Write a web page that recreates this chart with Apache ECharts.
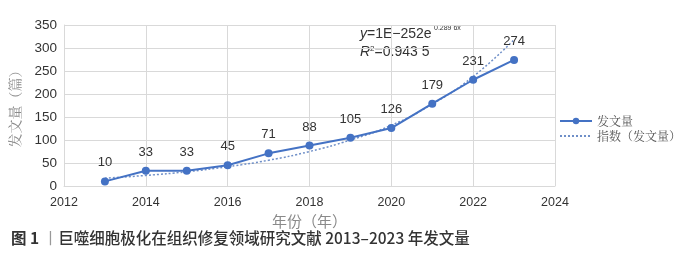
<!DOCTYPE html>
<html>
<head>
<meta charset="utf-8">
<script src="https://cdn.jsdelivr.net/npm/echarts@6/dist/echarts.min.js"></script>
<style>
  html, body { margin: 0; padding: 0; background: #fff; }
  #chart { width: 700px; height: 259px; }
</style>
</head>
<body>
<div id="chart"></div>
<script>
// 年份与发文量
const years = [2013, 2014, 2015, 2016, 2017, 2018, 2019, 2020, 2021, 2022, 2023]
const counts = [10, 33, 33, 45, 71, 88, 105, 126, 179, 231, 274]
// 指数趋势线
const trend = [17, 23, 31, 42, 56, 75, 100, 132, 178, 238, 318]
const yTicks = [0, 50, 100, 150, 200, 250, 300, 350]

const blue = '#4472c4'
const chart = echarts.init(document.getElementById('chart'))

const option = {
  animation: false,
  grid: { left: 62, right: 145, top: 25, bottom: 73 },
  legend: {
    orient: 'vertical',
    left: 554,
    top: 110,
    itemWidth: 32,
    itemHeight: 8,
    itemGap: 3,
    textStyle: { fontFamily: 'Noto Serif CJK SC, Noto Sans CJK SC', fontSize: 12, color: '#555' },
    data: [
      '发文量',
      { name: '指数（发文量）', itemStyle: { opacity: 0 } }
    ]
  },
  xAxis: {
    type: 'value',
    min: 2012,
    max: 2024,
    interval: 2,
    name: '年份（年）',
    nameLocation: 'middle',
    nameGap: 28,
    nameTextStyle: { fontFamily: 'Noto Sans CJK SC', fontSize: 15, color: '#8a8a8a' },
    axisLine: { show: true, lineStyle: { color: '#d9d9d9' } },
    axisTick: { show: false },
    splitLine: { show: true, lineStyle: { color: '#d9d9d9' } },
    axisLabel: {
      fontFamily: 'Arial, Liberation Sans',
      fontSize: 12.5,
      color: '#333',
      margin: 10,
      formatter: v => String(v)
    }
  },
  yAxis: {
    type: 'value',
    min: yTicks[0],
    max: yTicks[yTicks.length - 1],
    interval: 50,
    name: '发文量（篇）',
    nameLocation: 'middle',
    nameRotate: 90,
    nameGap: 42,
    nameTextStyle: { fontFamily: 'Noto Serif CJK SC, Noto Sans CJK SC', fontSize: 14, color: '#8a8a8a' },
    axisLine: { show: true, lineStyle: { color: '#d9d9d9' } },
    axisTick: { show: false },
    splitLine: { show: true, lineStyle: { color: '#d9d9d9' } },
    axisLabel: { fontFamily: 'Arial, Liberation Sans', fontSize: 13.5, color: '#333', margin: 7 }
  },
  series: [
    {
      name: '发文量',
      type: 'line',
      data: years.map((y, i) => [y, counts[i]]),
      symbol: 'circle',
      symbolSize: 8,
      itemStyle: { color: blue },
      lineStyle: { color: blue, width: 2 },
      label: {
        show: true,
        position: 'top',
        distance: 8,
        fontFamily: 'Arial, Liberation Sans',
        fontSize: 13,
        color: '#333',
        formatter: p => p.value[1]
      },
      z: 3
    },
    {
      name: '指数（发文量）',
      type: 'line',
      data: years.map((y, i) => [y, trend[i]]),
      smooth: true,
      showSymbol: false,
      symbol: 'none',
      itemStyle: { color: '#6f8fc8' },
      lineStyle: { color: '#6f8fc8', width: 1.5, type: [2, 2] },
      z: 2
    }
  ],
  graphic: [
    {
      type: 'text',
      left: 360,
      top: 27,
      style: {
        text: '{i|y}{n|=1E−252e}',
        rich: {
          i: { fontFamily: 'Arial, Liberation Sans', fontStyle: 'italic', fontSize: 14, fill: '#333' },
          n: { fontFamily: 'Arial, Liberation Sans', fontSize: 14, fill: '#333' }
        }
      }
    },
    {
      type: 'text',
      left: 434,
      top: 25,
      style: { text: '0.289 6x', fontFamily: 'Arial, Liberation Sans', fontSize: 7, fill: '#333' }
    },
    {
      type: 'text',
      left: 360,
      top: 45,
      style: {
        text: '{i|R}{s|2}{n|=0.943 5}',
        rich: {
          i: { fontFamily: 'Arial, Liberation Sans', fontStyle: 'italic', fontSize: 14, fill: '#333' },
          s: { fontFamily: 'Arial, Liberation Sans', fontSize: 8, fill: '#333', verticalAlign: 'top', padding: [0, 0, 6, 0] },
          n: { fontFamily: 'Arial, Liberation Sans', fontSize: 14, fill: '#333' }
        }
      }
    },
    {
      type: 'text',
      left: 11,
      top: 230,
      style: {
        text: '{b|图 1 }{g|丨}{t|巨噬细胞极化在组织修复领域研究文献 2013–2023 年发文量}',
        rich: {
          b: { fontFamily: 'Noto Sans CJK SC', fontWeight: 'bold', fontSize: 15.5, fill: '#333' },
          g: { fontFamily: 'Noto Sans CJK SC', fontSize: 15.5, fill: '#999' },
          t: { fontFamily: 'Noto Sans CJK SC', fontWeight: 500, fontSize: 15.5, fill: '#333' }
        }
      }
    }
  ]
}

chart.setOption(option)
</script>
</body>
</html>
